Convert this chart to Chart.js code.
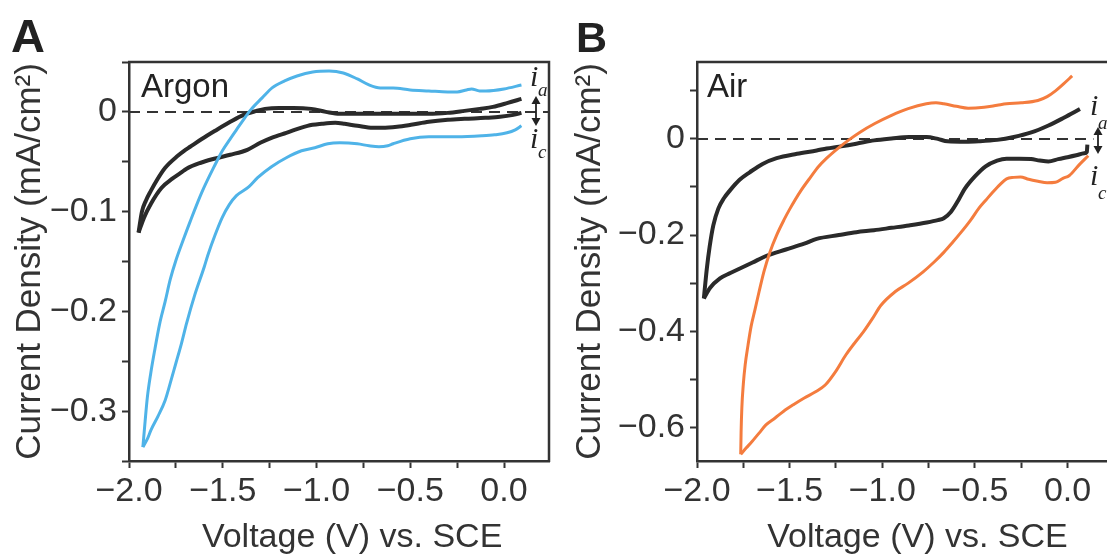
<!DOCTYPE html>
<html>
<head>
<meta charset="utf-8">
<script src="https://cdn.jsdelivr.net/npm/chart.js@4.4.1/dist/chart.umd.min.js"></script>
<style>
  html, body { margin: 0; padding: 0; background: #fff; overflow: hidden; width: 1107px; height: 556px; }
  .panel { position: absolute; top: 0; height: 556px; }
  #panelA { left: 0; width: 560px; }
  #panelB { left: 560px; width: 600px; }
</style>
</head>
<body>
<div class="panel" id="panelA"><canvas id="chartA" width="560" height="556"></canvas></div>
<div class="panel" id="panelB"><canvas id="chartB" width="600" height="556"></canvas></div>
<script>
// Argon: bare electrode (black), two sweeps [V vs SCE, mA/cm2]
const argonBareUp = [[-1.949, -0.121], [-1.931, -0.1], [-1.91, -0.089], [-1.883, -0.079], [-1.85, -0.068], [-1.807, -0.056], [-1.74, -0.044], [-1.706, -0.039], [-1.674, -0.035], [-1.61, -0.027], [-1.541, -0.019], [-1.46, -0.01], [-1.389, -0.003], [-1.32, 0.001], [-1.275, 0.003], [-1.2, 0.004], [-1.123, 0.004], [-1.028, 0.003], [-0.95, 0.0], [-0.876, -0.002], [-0.78, -0.002], [-0.686, -0.002], [-0.55, -0.002], [-0.401, -0.002], [-0.3, -0.001], [-0.211, 0.001], [-0.13, 0.003], [-0.059, 0.005], [0.02, 0.009], [0.093, 0.013]]
const argonBareDown = [[-1.949, -0.121], [-1.92, -0.106], [-1.883, -0.092], [-1.826, -0.076], [-1.769, -0.067], [-1.723, -0.061], [-1.693, -0.057], [-1.617, -0.051], [-1.546, -0.047], [-1.46, -0.043], [-1.369, -0.038], [-1.3, -0.031], [-1.24, -0.026], [-1.161, -0.021], [-1.048, -0.014], [-0.971, -0.012], [-0.9, -0.011], [-0.85, -0.012], [-0.782, -0.014], [-0.7, -0.016], [-0.649, -0.016], [-0.57, -0.015], [-0.496, -0.013], [-0.401, -0.01], [-0.3, -0.008], [-0.211, -0.007], [-0.1, -0.006], [-0.021, -0.005], [0.05, -0.003], [0.093, -0.001]]

// Argon: coated electrode (blue)
const argonFilmUp = [[-1.926, -0.336], [-1.914, -0.31], [-1.902, -0.286], [-1.884, -0.262], [-1.864, -0.24], [-1.836, -0.212], [-1.807, -0.19], [-1.78, -0.168], [-1.75, -0.149], [-1.71, -0.128], [-1.674, -0.11], [-1.61, -0.08], [-1.541, -0.053], [-1.502, -0.039], [-1.46, -0.027], [-1.427, -0.018], [-1.39, -0.008], [-1.351, 0.002], [-1.29, 0.014], [-1.237, 0.024], [-1.17, 0.031], [-1.104, 0.036], [-1.02, 0.04], [-0.933, 0.041], [-0.857, 0.039], [-0.782, 0.033], [-0.72, 0.027], [-0.66, 0.024], [-0.591, 0.024], [-0.5, 0.022], [-0.401, 0.021], [-0.3, 0.02], [-0.25, 0.02], [-0.2, 0.022], [-0.173, 0.023], [-0.13, 0.021], [-0.097, 0.021], [0.0, 0.023], [0.093, 0.027]]
const argonFilmDown = [[-1.926, -0.336], [-1.9, -0.327], [-1.883, -0.319], [-1.845, -0.305], [-1.807, -0.289], [-1.78, -0.272], [-1.75, -0.252], [-1.72, -0.232], [-1.693, -0.212], [-1.65, -0.184], [-1.598, -0.155], [-1.58, -0.144], [-1.54, -0.123], [-1.503, -0.106], [-1.465, -0.093], [-1.427, -0.084], [-1.36, -0.075], [-1.314, -0.066], [-1.24, -0.055], [-1.161, -0.046], [-1.08, -0.039], [-1.009, -0.036], [-0.94, -0.032], [-0.876, -0.031], [-0.782, -0.032], [-0.72, -0.034], [-0.667, -0.035], [-0.62, -0.034], [-0.591, -0.032], [-0.5, -0.027], [-0.401, -0.025], [-0.25, -0.025], [-0.117, -0.024], [-0.05, -0.023], [0.016, -0.021], [0.06, -0.018], [0.093, -0.014]]

// Air: bare electrode (black)
const airBareUp = [[-1.963, -0.332], [-1.955, -0.3], [-1.947, -0.27], [-1.932, -0.225], [-1.912, -0.18], [-1.885, -0.145], [-1.854, -0.123], [-1.822, -0.107], [-1.77, -0.085], [-1.714, -0.069], [-1.646, -0.052], [-1.57, -0.04], [-1.46, -0.031], [-1.354, -0.024], [-1.3, -0.02], [-1.232, -0.016], [-1.14, -0.01], [-1.044, -0.003], [-0.95, 0.001], [-0.855, 0.004], [-0.761, 0.004], [-0.7, 0.0], [-0.648, -0.005], [-0.55, -0.006], [-0.479, -0.005], [-0.38, -0.002], [-0.29, 0.004], [-0.2, 0.013], [-0.103, 0.028], [-0.02, 0.044], [0.067, 0.062]]
const airBareDown = [[-1.963, -0.332], [-1.93, -0.31], [-1.876, -0.29], [-1.82, -0.279], [-1.76, -0.268], [-1.7, -0.257], [-1.624, -0.243], [-1.52, -0.23], [-1.421, -0.218], [-1.354, -0.208], [-1.234, -0.2], [-1.14, -0.194], [-1.045, -0.19], [-0.95, -0.185], [-0.856, -0.18], [-0.76, -0.174], [-0.7, -0.169], [-0.668, -0.165], [-0.63, -0.152], [-0.59, -0.128], [-0.555, -0.104], [-0.5, -0.078], [-0.442, -0.057], [-0.38, -0.045], [-0.329, -0.041], [-0.26, -0.041], [-0.197, -0.042], [-0.15, -0.045], [-0.103, -0.047], [-0.05, -0.042], [0.0, -0.038], [0.047, -0.034], [0.09, -0.03], [0.104, -0.027], [0.107, -0.012]]

// Air: coated electrode (orange)
const airFilmUp = [[-1.764, -0.656], [-1.762, -0.61], [-1.758, -0.56], [-1.75, -0.51], [-1.74, -0.47], [-1.725, -0.43], [-1.708, -0.39], [-1.687, -0.355], [-1.665, -0.318], [-1.638, -0.275], [-1.606, -0.235], [-1.57, -0.2], [-1.53, -0.168], [-1.498, -0.145], [-1.44, -0.108], [-1.384, -0.078], [-1.345, -0.058], [-1.3, -0.04], [-1.234, -0.018], [-1.18, -0.002], [-1.12, 0.014], [-1.04, 0.032], [-0.95, 0.049], [-0.86, 0.063], [-0.762, 0.073], [-0.71, 0.075], [-0.668, 0.073], [-0.6, 0.068], [-0.536, 0.064], [-0.45, 0.066], [-0.38, 0.07], [-0.329, 0.073], [-0.25, 0.075], [-0.16, 0.08], [-0.11, 0.088], [-0.065, 0.1], [-0.02, 0.115], [0.025, 0.131]]
const airFilmDown = [[-1.764, -0.656], [-1.735, -0.643], [-1.704, -0.63], [-1.665, -0.612], [-1.628, -0.595], [-1.58, -0.581], [-1.534, -0.567], [-1.48, -0.553], [-1.421, -0.539], [-1.36, -0.526], [-1.308, -0.512], [-1.252, -0.484], [-1.196, -0.449], [-1.15, -0.425], [-1.101, -0.401], [-1.055, -0.375], [-1.007, -0.346], [-0.931, -0.318], [-0.86, -0.3], [-0.781, -0.277], [-0.72, -0.256], [-0.668, -0.236], [-0.62, -0.215], [-0.574, -0.194], [-0.525, -0.17], [-0.48, -0.145], [-0.44, -0.127], [-0.404, -0.111], [-0.365, -0.095], [-0.329, -0.083], [-0.29, -0.08], [-0.254, -0.079], [-0.21, -0.084], [-0.16, -0.088], [-0.11, -0.091], [-0.065, -0.09], [-0.025, -0.082], [0.01, -0.076], [0.06, -0.055], [0.112, -0.035]]

// Tick labels
const xTickValues = [-2.0, -1.5, -1.0, -0.5, 0.0]
const xTickLabels = ["\u22122.0", "\u22121.5", "\u22121.0", "\u22120.5", "0.0"]
const yTickValuesA = [0, -0.1, -0.2, -0.3]
const yTickLabelsA = ["0", "\u22120.1", "\u22120.2", "\u22120.3"]
const yTickValuesB = [0, -0.2, -0.4, -0.6]
const yTickLabelsB = ["0", "\u22120.2", "\u22120.4", "\u22120.6"]

const BLACK = "#2a2a2a"
const BLUE = "#4fb3e8"
const ORANGE = "#f47c3e"
const AXIS = "#333333"
const FONT = "'Liberation Sans', Arial, Helvetica, sans-serif"
const SERIF = "'Liberation Serif', 'Times New Roman', serif"

function branch(points, color, width) {
  return {
    data: points.map((p) => ({ x: p[0], y: p[1] })),
    borderColor: color,
    borderWidth: width,
    pointRadius: 0,
    fill: false,
    cubicInterpolationMode: "monotone",
  }
}

function labelFor(values, labels) {
  return function (v) {
    const i = values.findIndex((t) => Math.abs(t - v) < 1e-6)
    return i >= 0 ? labels[i] : ""
  }
}

function drawArrow(ctx, x, y1, y2) {
  const h = 8
  const w = 4.5
  ctx.lineWidth = 1.8
  ctx.beginPath()
  ctx.moveTo(x, y1 + h - 1)
  ctx.lineTo(x, y2 - h + 1)
  ctx.stroke()
  ctx.beginPath()
  ctx.moveTo(x, y1)
  ctx.lineTo(x - w, y1 + h)
  ctx.lineTo(x + w, y1 + h)
  ctx.closePath()
  ctx.fill()
  ctx.beginPath()
  ctx.moveTo(x, y2)
  ctx.lineTo(x - w, y2 - h)
  ctx.lineTo(x + w, y2 - h)
  ctx.closePath()
  ctx.fill()
}

// Frame, zero line, captions and i_a / i_c marker
const panelDecor = {
  id: "panelDecor",
  beforeDatasetsDraw(chart, args, o) {
    const { ctx, chartArea: a, scales } = chart
    const zero = scales.y.getPixelForValue(0)
    ctx.save()
    ctx.strokeStyle = AXIS
    ctx.lineWidth = 2
    ctx.setLineDash([11, 7])
    ctx.beginPath()
    ctx.moveTo(a.left, zero)
    ctx.lineTo(scales.x.getPixelForValue(o.zeroEnd), zero)
    ctx.stroke()
    ctx.restore()
  },
  afterDraw(chart, args, o) {
    const { ctx, chartArea: a, scales } = chart
    const zero = scales.y.getPixelForValue(0)
    const m = o.mark
    ctx.save()
    ctx.strokeStyle = AXIS
    ctx.lineWidth = 2.5
    ctx.beginPath()
    ctx.moveTo(a.left - 1, a.top)
    ctx.lineTo(a.right, a.top)
    ctx.lineTo(a.right, a.bottom + 1)
    ctx.stroke()

    ctx.fillStyle = "#222"
    ctx.textAlign = "left"
    ctx.textBaseline = "alphabetic"
    ctx.font = "bold " + o.letterSize + "px " + FONT
    ctx.fillText(o.letter, o.letterX, 52)
    ctx.font = "33px " + FONT
    ctx.fillText(o.gas, a.left + o.gasDx, 97)

    ctx.fillStyle = AXIS
    ctx.font = "34px " + FONT
    ctx.textAlign = "center"
    ctx.fillText("Voltage (V) vs. SCE", scales.x.getPixelForValue(-0.81), 547)

    ctx.fillStyle = "#222"
    ctx.strokeStyle = "#222"
    ctx.textAlign = "left"
    ctx.font = "italic 30px " + SERIF
    ctx.fillText("i", m.x, zero + m.ia)
    ctx.fillText("i", m.x, zero + m.ic)
    ctx.font = "italic 19px " + SERIF
    ctx.fillText("a", m.x + 8, zero + m.sa)
    ctx.fillText("c", m.x + 8, zero + m.sc)
    drawArrow(ctx, m.ax, zero + m.a1, zero + m.a2)
    ctx.restore()
  },
}

function makeConfig(datasets, yMin, yMax, yStep, yValues, yLabels, decor, yWidth, padRight) {
  return {
    type: "line",
    data: { datasets: datasets },
    plugins: [panelDecor],
    options: {
      responsive: false,
      animation: false,
      layout: { padding: { top: 62, right: padRight, bottom: 0, left: 0 } },
      plugins: {
        legend: { display: false },
        tooltip: { enabled: false },
        panelDecor: decor,
      },
      scales: {
        x: {
          type: "linear",
          min: -2.0,
          max: 0.24,
          border: { color: AXIS, width: 2.5 },
          grid: { drawOnChartArea: false, tickLength: 7, tickWidth: 2, tickColor: AXIS },
          ticks: {
            stepSize: 0.25,
            includeBounds: false,
            autoSkip: false,
            maxRotation: 0,
            padding: 3,
            color: AXIS,
            font: { family: FONT, size: 34 },
            callback: labelFor(xTickValues, xTickLabels),
          },
          afterFit: (s) => {
            s.height = 95
          },
        },
        y: {
          min: yMin,
          max: yMax,
          border: { color: AXIS, width: 2.5 },
          grid: { drawOnChartArea: false, tickLength: 7, tickWidth: 2, tickColor: AXIS },
          ticks: {
            stepSize: yStep,
            includeBounds: false,
            autoSkip: false,
            padding: 5,
            color: AXIS,
            font: { family: FONT, size: 34 },
            callback: labelFor(yValues, yLabels),
          },
          title: {
            display: true,
            text: "Current Density (mA/cm\u00b2)",
            color: AXIS,
            font: { family: FONT, size: 35 },
            padding: { top: 9, bottom: 0 },
          },
          afterFit: (s) => {
            s.width = yWidth
          },
        },
      },
    },
  }
}

// Panel A - argon
const chartA = new Chart(
  document.getElementById("chartA"),
  makeConfig(
    [
      branch(argonFilmUp, BLUE, 3),
      branch(argonFilmDown, BLUE, 3),
      branch(argonBareUp, BLACK, 4),
      branch(argonBareDown, BLACK, 4),
    ],
    -0.35, 0.05, 0.05, yTickValuesA, yTickLabelsA,
    {
      letter: "A", letterX: 11, letterSize: 47, gas: "Argon", gasDx: 12, zeroEnd: 0.24,
      mark: { x: 530, ia: -26, sa: -16, ic: 36, sc: 46, ax: 536, a1: -16, a2: 14 },
    },
    129, 11
  )
)

// Panel B - air
const chartB = new Chart(
  document.getElementById("chartB"),
  makeConfig(
    [
      branch(airFilmUp, ORANGE, 3),
      branch(airFilmDown, ORANGE, 3),
      branch(airBareUp, BLACK, 4),
      branch(airBareDown, BLACK, 4),
    ],
    -0.67, 0.16, 0.1, yTickValuesB, yTickLabelsB,
    {
      letter: "B", letterX: 16, letterSize: 43, gas: "Air", gasDx: 10, zeroEnd: 0.14,
      mark: { x: 530, ia: -24, sa: -10, ic: 46, sc: 60, ax: 538, a1: -12, a2: 15 },
    },
    137, 48
  )
)
</script>
</body>
</html>
